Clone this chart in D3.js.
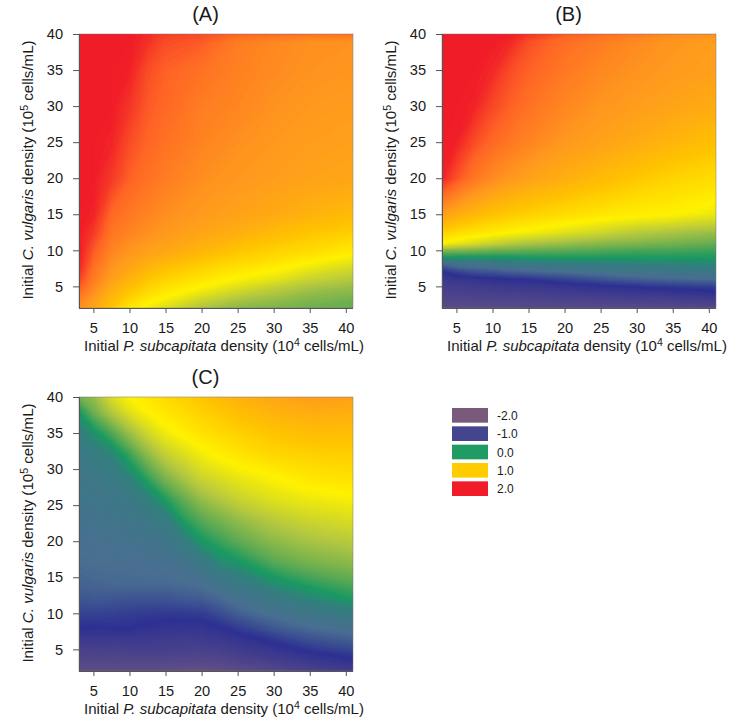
<!DOCTYPE html>
<html>
<head>
<meta charset="utf-8">
<script src="https://cdnjs.cloudflare.com/ajax/libs/d3/7.8.5/d3.min.js"></script>
<style>
html,body{margin:0;padding:0;background:#fff}
svg{display:block}
text{font-family:"Liberation Sans",Arial,sans-serif;fill:#1a1a1a}
.tick text{font-size:14.6px}
.domain,.tick line{stroke:#555;stroke-width:1}
</style>
</head>
<body>
<svg id="chart" width="740" height="728"></svg>
<script>
const xTicks = [5,10,15,20,25,30,35,40];
const yTicks = [5,10,15,20,25,30,35,40];
const xGrid = [3,5,7.5,10,12.5,15,20,25,30,35,41];
const xGridC = [3,5,7.5,10,12.5,15,17.5,20,22.5,25,30,35,41];

const yGridA = [40,39,35,30,25,20,15,12.5,10,7.5,6,5,4,3,2];
const valuesA = [
 [2,2,2,2,1.95,1.85,1.8,1.7,1.65,1.6,1.6],
 [2,2,2,2,1.92,1.8,1.75,1.55,1.47,1.42,1.4],
 [2,2,2,1.98,1.8,1.72,1.62,1.52,1.45,1.4,1.38],
 [2,2,2,1.9,1.75,1.68,1.55,1.48,1.4,1.36,1.33],
 [2,2,1.97,1.8,1.7,1.62,1.5,1.42,1.36,1.32,1.3],
 [2,2,1.88,1.72,1.62,1.55,1.43,1.36,1.32,1.28,1.25],
 [2,1.97,1.68,1.58,1.5,1.43,1.34,1.28,1.22,1.15,1.08],
 [2,1.88,1.6,1.5,1.42,1.36,1.26,1.18,1.08,1.0,.93],
 [2,1.75,1.5,1.38,1.3,1.25,1.12,1.0,.92,.85,.75],
 [1.95,1.62,1.38,1.25,1.12,1.03,.9,.8,.72,.62,.52],
 [1.85,1.55,1.3,1.14,1.0,.9,.78,.68,.6,.48,.4],
 [1.75,1.48,1.22,1.06,.92,.82,.7,.58,.47,.38,.32],
 [1.62,1.4,1.14,.97,.84,.74,.6,.47,.38,.3,.26],
 [1.5,1.32,1.07,.87,.74,.65,.48,.36,.3,.24,.2],
 [1.42,1.26,1.0,.76,.66,.56,.38,.28,.24,.2,.17]
];

const yGridB = [40,39,35,30,25,20,15,12.5,11,10,9,8,7,6,5,3.5,2];
const valuesB = [
 [2,2,2,2,2,1.9,1.75,1.65,1.55,1.45,1.4],
 [2,2,2,2,1.95,1.8,1.65,1.55,1.45,1.38,1.32],
 [2,2,2,1.95,1.8,1.72,1.58,1.47,1.4,1.34,1.3],
 [2,2,1.97,1.82,1.72,1.62,1.48,1.38,1.32,1.27,1.2],
 [2,1.98,1.8,1.68,1.58,1.5,1.36,1.28,1.2,1.12,1.03],
 [1.97,1.78,1.58,1.45,1.36,1.28,1.18,1.08,.98,.9,.84],
 [1.3,1.2,1.1,1.02,.96,.92,.84,.78,.73,.7,.62],
 [.92,.85,.8,.75,.7,.66,.58,.5,.42,.37,.32],
 [.7,.62,.55,.48,.42,.38,.33,.28,.25,.22,.18],
 [.25,.24,.22,.2,.19,.17,.15,.13,.1,.1,.08],
 [-.02,-.03,-.03,-.03,-.02,0,0,0,0,0,0],
 [-.6,-.45,-.4,-.35,-.3,-.28,-.22,-.2,-.18,-.15,-.12],
 [-1,-.85,-.75,-.7,-.62,-.58,-.5,-.42,-.36,-.32,-.3],
 [-1.2,-1.15,-1.1,-1.05,-1.0,-.98,-.85,-.72,-.62,-.55,-.5],
 [-1.3,-1.28,-1.25,-1.22,-1.2,-1.18,-1.12,-1.05,-.98,-.92,-.85],
 [-1.45,-1.42,-1.4,-1.4,-1.4,-1.38,-1.35,-1.32,-1.3,-1.28,-1.22],
 [-1.6,-1.6,-1.6,-1.58,-1.58,-1.55,-1.55,-1.55,-1.55,-1.55,-1.55]
];

const yGridC = [40,38,35,32,29,26,23,20,17,14,12,10,8,6.5,5,3.5,2];
const valuesC = [
 [.2,.3,.55,.7,.78,.85,.93,1.0,1.08,1.15,1.25,1.32,1.3],
 [0,.2,.4,.58,.7,.78,.85,.92,.98,1.05,1.15,1.2,1.18],
 [-.2,-.05,.12,.32,.5,.64,.72,.8,.86,.92,1.0,1.05,1.05],
 [-.28,-.22,-.12,.07,.28,.45,.55,.65,.72,.78,.88,.92,.93],
 [-.33,-.3,-.25,-.12,.07,.25,.38,.5,.56,.62,.7,.78,.82],
 [-.37,-.35,-.32,-.27,-.15,.03,.18,.32,.4,.48,.58,.64,.68],
 [-.42,-.4,-.38,-.35,-.3,-.2,.02,.14,.22,.3,.42,.5,.55],
 [-.46,-.45,-.43,-.42,-.4,-.35,-.2,-.02,.07,.15,.28,.36,.42],
 [-.52,-.5,-.49,-.48,-.48,-.46,-.4,-.28,-.1,-.03,.13,.22,.28],
 [-.6,-.58,-.56,-.55,-.55,-.55,-.52,-.48,-.38,-.28,-.08,.03,.12],
 [-.7,-.68,-.7,-.72,-.72,-.72,-.68,-.65,-.55,-.45,-.28,-.12,0],
 [-.85,-.85,-.87,-.9,-.92,-.93,-.92,-.9,-.78,-.62,-.45,-.32,-.22],
 [-1.02,-1.02,-1.0,-1.0,-1.05,-1.08,-1.1,-1.1,-1.02,-.9,-.68,-.52,-.42],
 [-1.2,-1.2,-1.2,-1.2,-1.2,-1.22,-1.23,-1.22,-1.18,-1.1,-.92,-.72,-.6],
 [-1.35,-1.35,-1.35,-1.32,-1.32,-1.32,-1.34,-1.35,-1.32,-1.25,-1.12,-.95,-.8],
 [-1.48,-1.48,-1.48,-1.48,-1.48,-1.48,-1.5,-1.5,-1.47,-1.42,-1.3,-1.18,-1.05],
 [-1.65,-1.65,-1.65,-1.65,-1.65,-1.68,-1.7,-1.72,-1.7,-1.65,-1.55,-1.4,-1.3]
];

const colorStops = [-2,-1.5,-1,-.5,-.15,0,.1,.2,.4,.7,1,1.35,1.7,2];
const colorValues = ["#7a5a7a","#54488a","#2e3192","#4a6f92","#33807e","#1a9a62","#48a458","#70b050","#b5c840","#fff200","#ffc400","#ff9a1e","#ff6525","#f01c28"];
const legendValues = [-2,-1,0,1,2];
const legendLabels = ["-2.0","-1.0","0.0","1.0","2.0"];
const legendColors = ["#7a5a7a","#45458f","#1f9b63","#ffcc00","#f01c28"];

const color = d3.scaleLinear().domain(colorStops).range(colorValues).clamp(true);
const levels = d3.range(-2, 2.001, 0.02);
const svg = d3.select("#chart");
const defs = svg.append("defs");

function panel(id, title, left, top, xs, yGrid, values) {
  const size = 274;
  const x = d3.scaleLinear().domain([3,41]).range([left, left+size]);
  const y = d3.scaleLinear().domain([2,40]).range([top+size, top]);
  const rows = values.slice().reverse();
  const ys = yGrid.slice().reverse();
  const n = xs.length, m = ys.length;
  const ix = d3.scaleLinear().domain(d3.range(n)).range(xs).clamp(true);
  const iy = d3.scaleLinear().domain(d3.range(m)).range(ys).clamp(true);
  const path = d3.geoPath(d3.geoTransform({
    point(a,b){ this.stream.point(x(ix(a-0.5)), y(iy(b-0.5))); }
  }));
  const contours = d3.contours().size([n,m]).thresholds(levels)(rows.flat());
  defs.append("clipPath").attr("id","clip"+id).append("rect")
    .attr("x",left).attr("y",top).attr("width",size).attr("height",size);
  const g = svg.append("g").attr("clip-path",`url(#clip${id})`);
  g.append("rect").attr("x",left).attr("y",top).attr("width",size).attr("height",size)
    .attr("fill",color(d3.min(rows.flat())));
  g.selectAll("path").data(contours).join("path")
    .attr("d",path).attr("fill",d=>color(d.value+0.01)).attr("stroke",d=>color(d.value+0.01)).attr("stroke-width",0.3);

  svg.append("rect").attr("x",left).attr("y",top).attr("width",size).attr("height",size)
    .attr("fill","none").attr("stroke","#777").attr("stroke-opacity",0.6).attr("stroke-width",0.8);

  const ax = svg.append("g").attr("transform",`translate(0,${top+size})`)
    .call(d3.axisBottom(x).tickValues(xTicks).tickSize(5).tickPadding(10).tickSizeOuter(0));
  ax.select(".domain").attr("d",`M${left},0.5H${left+size}`);
  const ay = svg.append("g").attr("transform",`translate(${left},0)`)
    .call(d3.axisLeft(y).tickValues(yTicks).tickSize(6).tickPadding(10).tickSizeOuter(0));
  ay.select(".domain").attr("d",`M0.5,${top}V${top+size}`);

  svg.append("text").attr("x",left+126.5).attr("y",top-13).attr("text-anchor","middle")
    .attr("font-size",20).text(title);

  const xt = svg.append("text").attr("x",left+145).attr("y",top+size+42.5)
    .attr("text-anchor","middle").attr("font-size",15);
  xt.append("tspan").text("Initial ");
  xt.append("tspan").attr("font-style","italic").text("P. subcapitata");
  xt.append("tspan").text(" density (10");
  xt.append("tspan").attr("dy",-5).attr("font-size",10.5).text("4");
  xt.append("tspan").attr("dy",5).text(" cells/mL)");

  const yt = svg.append("text")
    .attr("transform",`translate(${left-46},${top+size/2-1}) rotate(-90)`)
    .attr("text-anchor","middle").attr("font-size",15.1);
  yt.append("tspan").text("Initial ");
  yt.append("tspan").attr("font-style","italic").text("C. vulgaris");
  yt.append("tspan").text(" density (10");
  yt.append("tspan").attr("dy",-5).attr("font-size",10.5).text("5");
  yt.append("tspan").attr("dy",5).text(" cells/mL)");
}

panel("A","(A)",79,34,xGrid,yGridA,valuesA);
panel("B","(B)",442,34,xGrid,yGridB,valuesB);
panel("C","(C)",79,397,xGridC,yGridC,valuesC);

const legendY = d3.scaleBand().domain(legendValues).range([408,496]).paddingInner(0.2);
const lg = svg.append("g");
lg.selectAll("rect").data(legendValues).join("rect")
  .attr("x",452).attr("width",36)
  .attr("y",d=>legendY(d)).attr("height",legendY.bandwidth())
  .attr("fill",(d,i)=>legendColors[i]);
lg.selectAll("text").data(legendValues).join("text")
  .attr("x",497).attr("y",d=>legendY(d)+legendY.bandwidth()/2+4.5)
  .attr("font-size",12).text((d,i)=>legendLabels[i]);
</script>
</body>
</html>
